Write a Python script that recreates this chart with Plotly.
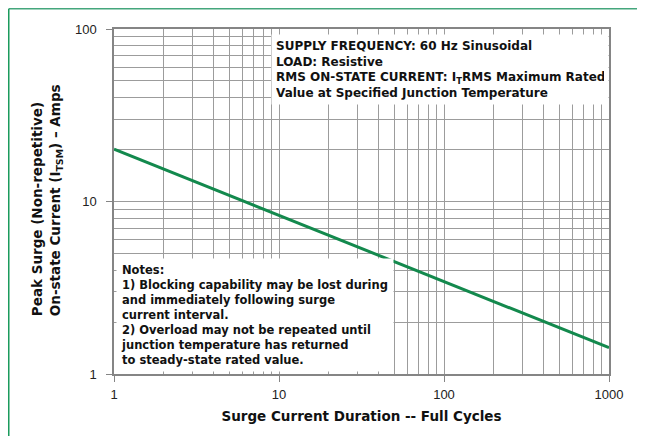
import plotly.graph_objects as go

# Data (log-log straight line)
cycles = [1, 10, 100, 1000]
surge_amps = [20.1, 8.3, 3.43, 1.42]

x_major = [1, 10, 100, 1000]
x_major_text = ["1", "10", "100", "1000"]
x_minor = [2, 3, 4, 5, 6, 7, 8, 9, 20, 30, 40, 50, 60, 70, 80, 90,
           200, 300, 400, 500, 600, 700, 800, 900]
y_major = [1, 10, 100]
y_major_text = ["1", "10", "100"]
y_minor = [2, 3, 4, 5, 6, 7, 8, 9, 20, 30, 40, 50, 60, 70, 80, 90]

x_title = "Surge Current Duration -- Full Cycles"
y_title_1 = "Peak Surge (Non-repetitive)"
y_title_2 = "On-state Current (I<sub>TSM</sub>) – Amps"

info_lines = [
    "SUPPLY FREQUENCY: 60 Hz Sinusoidal",
    "LOAD: Resistive",
    "RMS ON-STATE CURRENT: I<sub>T</sub>RMS Maximum Rated",
    "Value at Specified Junction Temperature",
]
note_lines = [
    "Notes:",
    "1) Blocking capability may be lost during",
    "and immediately following surge",
    "current interval.",
    "2) Overload may not be repeated until",
    "junction temperature has returned",
    "to steady-state rated value.",
]

FONT = "Liberation Sans, Arial, Helvetica, sans-serif"
BOLD = "DejaVu Sans, Liberation Sans, Arial, sans-serif"
GRID = "#9c9c9c"
FRAME = "#858585"

fig = go.Figure()
fig.add_trace(go.Scatter(
    x=cycles, y=surge_amps, mode="lines",
    line=dict(color="#13894d", width=3),
    hoverinfo="skip", showlegend=False,
))

axis_common = dict(
    type="log", showline=True, linecolor=FRAME, linewidth=1.5, mirror=True,
    showgrid=True, gridcolor=GRID, gridwidth=1,
    ticks="outside", ticklen=6, tickcolor=FRAME, tickwidth=1,
    tickfont=dict(family=FONT, size=13, color="#222"),
    zeroline=False,
)

fig.update_xaxes(
    **axis_common,
    range=[0, 3],
    tickmode="array", tickvals=x_major, ticktext=x_major_text,
    ticklabelstandoff=2,
    minor=dict(tickmode="array", tickvals=x_minor, showgrid=True,
               gridcolor=GRID, gridwidth=1, ticks=""),
    title=dict(text="<b>" + x_title + "</b>",
               font=dict(family=BOLD, size=13.5, color="#111"), standoff=10),
)
fig.update_yaxes(
    **axis_common,
    range=[0, 2],
    tickmode="array", tickvals=y_major, ticktext=y_major_text,
    ticklabelstandoff=7,
    minor=dict(tickmode="array", tickvals=y_minor, showgrid=True,
               gridcolor=GRID, gridwidth=1, ticks=""),
)

fig.add_annotation(
    xref="paper", yref="paper", x=-0.136, y=0.503,
    text="<b>" + y_title_1 + "<br>" + y_title_2 + "</b>",
    textangle=-90, showarrow=False, xanchor="center", yanchor="middle",
    align="left",
    font=dict(family=BOLD, size=13.5, color="#111"),
)

fig.add_annotation(
    xref="paper", yref="paper", x=0.317, y=0.985,
    xanchor="left", yanchor="top", align="left",
    text="<b>" + "<br>".join(info_lines) + "</b>",
    showarrow=False, bgcolor="white", borderpad=4, width=328,
    font=dict(family=BOLD, size=12, color="#111"),
)
fig.add_annotation(
    xref="paper", yref="paper", x=0.004, y=0.006,
    xanchor="left", yanchor="bottom", align="left",
    text="<b>" + "<br>".join(note_lines) + "</b>",
    showarrow=False, bgcolor="white", borderpad=4, width=268,
    font=dict(family=BOLD, size=11.5, color="#111"),
)

# Green border lines (top and left) of the figure
fig.add_shape(type="line", xref="paper", yref="paper",
              x0=-0.2126, x1=1.08, y0=1.0587, y1=1.0587,
              line=dict(color="#44a67c", width=1.5))
fig.add_shape(type="line", xref="paper", yref="paper",
              x0=-0.2126, x1=-0.2126, y0=-0.19, y1=1.0587,
              line=dict(color="#1a9a5c", width=1.5))

fig.update_layout(
    width=637, height=428,
    margin=dict(l=106, r=36, t=21, b=62),
    paper_bgcolor="white", plot_bgcolor="white",
    font=dict(family=FONT),
    showlegend=False,
)

fig.write_html("out.html")
